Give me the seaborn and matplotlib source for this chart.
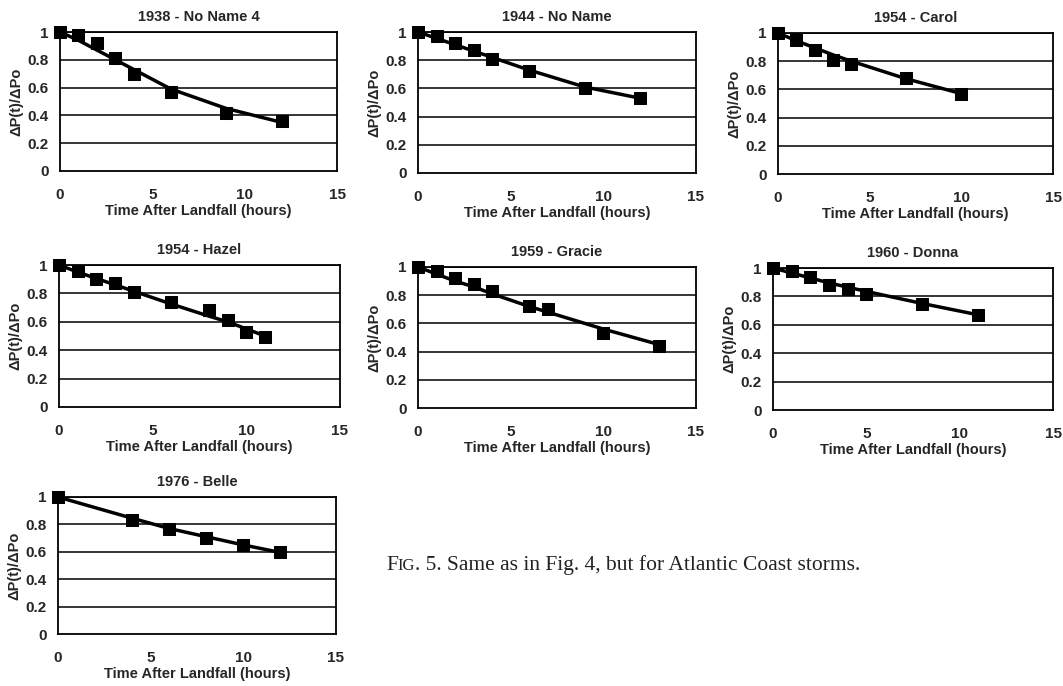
import matplotlib
matplotlib.use("Agg")
import matplotlib.pyplot as plt
import seaborn as sns
import pandas as pd

sns.set_theme(style="white")
plt.rcParams['font.family'] = ['Liberation Sans', 'DejaVu Sans']

titles = ["1938 - No Name 4", "1944 - No Name", "1954 - Carol",
          "1954 - Hazel", "1959 - Gracie", "1960 - Donna", "1976 - Belle"]

# hours after landfall, observed ratio, fitted-curve value
t_1938 = [0, 1, 2, 3, 4, 6, 9, 12]
obs_1938 = [1.00, 0.98, 0.92, 0.81, 0.70, 0.57, 0.42, 0.36]
fit_1938 = [1.00, 0.94, 0.87, 0.80, 0.73, 0.59, 0.45, 0.35]

t_1944 = [0, 1, 2, 3, 4, 6, 9, 12]
obs_1944 = [1.00, 0.97, 0.92, 0.87, 0.81, 0.72, 0.60, 0.53]
fit_1944 = [1.00, 0.955, 0.91, 0.865, 0.82, 0.73, 0.61, 0.53]

t_carol = [0, 1, 2, 3, 4, 7, 10]
obs_carol = [1.00, 0.95, 0.88, 0.81, 0.78, 0.68, 0.57]
fit_carol = [1.00, 0.945, 0.895, 0.845, 0.80, 0.675, 0.57]

t_hazel = [0, 1, 2, 3, 4, 6, 8, 9, 10, 11]
obs_hazel = [1.00, 0.96, 0.90, 0.87, 0.81, 0.74, 0.68, 0.61, 0.53, 0.49]
fit_hazel = [1.00, 0.95, 0.905, 0.86, 0.815, 0.725, 0.64, 0.60, 0.55, 0.50]

t_gracie = [0, 1, 2, 3, 4, 6, 7, 10, 13]
obs_gracie = [1.00, 0.97, 0.92, 0.88, 0.83, 0.72, 0.70, 0.53, 0.44]
fit_gracie = [1.00, 0.95, 0.90, 0.86, 0.81, 0.72, 0.68, 0.56, 0.45]

t_donna = [0, 1, 2, 3, 4, 5, 8, 11]
obs_donna = [1.00, 0.98, 0.94, 0.88, 0.85, 0.82, 0.75, 0.67]
fit_donna = [1.00, 0.965, 0.93, 0.895, 0.865, 0.835, 0.75, 0.67]

t_belle = [0, 4, 6, 8, 10, 12]
obs_belle = [1.00, 0.83, 0.77, 0.70, 0.65, 0.60]
fit_belle = [1.00, 0.845, 0.77, 0.71, 0.65, 0.595]

series = [(t_1938, obs_1938, fit_1938), (t_1944, obs_1944, fit_1944),
          (t_carol, obs_carol, fit_carol), (t_hazel, obs_hazel, fit_hazel),
          (t_gracie, obs_gracie, fit_gracie), (t_donna, obs_donna, fit_donna),
          (t_belle, obs_belle, fit_belle)]

x_ticks = [0, 5, 10, 15]
y_ticks = [0, 0.2, 0.4, 0.6, 0.8, 1]
y_ticklabels = ["0", "0.2", "0.4", "0.6", "0.8", "1"]
xlabel = "Time After Landfall (hours)"
ylabel = "ΔP(t)/ΔPo"
caption_big = "F"
caption_small = "IG"
caption_rest = ". 5. Same as in Fig. 4, but for Atlantic Coast storms."

W, H = 1063, 686
fig = plt.figure(figsize=(W / 100, H / 100), dpi=100)
fig.patch.set_facecolor("white")

# axes boxes in pixels: (x0, x15, y_top, y_bottom)
boxes = [(60, 337, 32, 171), (418, 696, 32, 173), (778, 1053, 33, 174),
         (59, 340, 265, 407), (418, 696, 267, 408), (773, 1053, 268, 410),
         (58, 336, 497, 634)]

for (x0, x1, yt, yb), title, (t, obs, fit) in zip(boxes, titles, series):
    ax = fig.add_axes([x0 / W, 1 - yb / H, (x1 - x0) / W, (yb - yt) / H])
    df = pd.DataFrame({"t": t, "obs": obs, "fit": fit})
    for yv in y_ticks[1:]:
        ax.axhline(yv, color="black", lw=1.1, zorder=1)
    sns.lineplot(data=df, x="t", y="fit", ax=ax, color="black", lw=2.5,
                 zorder=3, legend=False)
    sns.scatterplot(data=df, x="t", y="obs", ax=ax, marker="s", s=85,
                    color="black", edgecolor="black", zorder=4, legend=False,
                    clip_on=False)
    ax.set_xlim(0, 15)
    ax.set_ylim(0, 1)
    ax.set_xticks(x_ticks)
    ax.set_yticks(y_ticks)
    ax.set_yticklabels(y_ticklabels)
    for s in ax.spines.values():
        s.set_color("black")
        s.set_linewidth(1.3)
    ax.tick_params(axis="both", which="major", direction="out", length=3,
                   width=1.2, color="black", labelsize=11, pad=9)
    ax.tick_params(axis="y", pad=5)
    for lbl in ax.get_xticklabels() + ax.get_yticklabels():
        lbl.set_fontweight("bold")
    ax.set_xlabel(xlabel, fontsize=10.5, fontweight="bold", labelpad=2)
    ax.set_ylabel(ylabel, fontsize=10.5, fontweight="bold", labelpad=3)
    ax.set_title(title, fontsize=10.5, fontweight="bold", pad=8)
    ax.set_facecolor("white")

cap_y = 1 - 570 / H
t1 = fig.text(386 / W, cap_y, caption_big, fontsize=15.5,
              family="Liberation Serif", color="#222222", va="baseline")
t2 = fig.text(0, 0, caption_small, fontsize=12, family="Liberation Serif",
              color="#222222", va="baseline")
t3 = fig.text(0, 0, caption_rest, fontsize=15.5, family="Liberation Serif",
              color="#222222", va="baseline")
fig.canvas.draw()
r = fig.canvas.get_renderer()
bb1 = t1.get_window_extent(r)
t2.set_position(((bb1.x1) / W, cap_y))
fig.canvas.draw()
bb2 = t2.get_window_extent(r)
t3.set_position(((bb2.x1) / W, cap_y))

fig.savefig("out.png", dpi=100, facecolor="white")
